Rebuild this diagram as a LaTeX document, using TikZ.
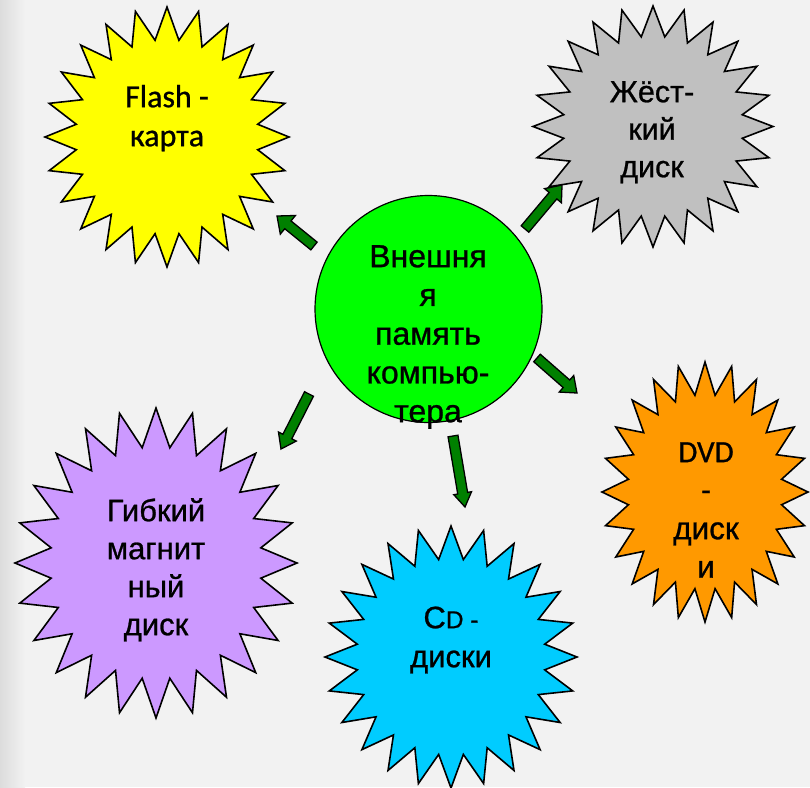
\documentclass[tikz,border=0pt]{standalone}
\usepackage{fontspec}
\setmainfont{Liberation Sans}[FakeBold=0.8]
\newfontfamily\calib{Carlito}[FakeBold=0.8]
\usetikzlibrary{calc}
\definecolor{bgc}{HTML}{F2F2F2}
\definecolor{bgdark}{HTML}{DCDCDC}
\definecolor{cyel}{HTML}{FFFF00}
\definecolor{cgray}{HTML}{C0C0C0}
\definecolor{cgreen}{HTML}{00FF00}
\definecolor{corange}{HTML}{FF9900}
\definecolor{ccyan}{HTML}{00CCFF}
\definecolor{cpurple}{HTML}{CC99FF}
\definecolor{carrow}{HTML}{008000}
\tikzset{
  starst/.style={draw=black, line width=1.6pt, line join=miter},
  arrowst/.style={draw=black, fill=carrow, line width=1.3pt, line join=miter},
  txt/.style={align=center, inner sep=0pt, anchor=north, text=black},
}
% star burst: cx cy rx ry colour
\newcommand{\starburst}[5]{%
  \filldraw[starst, fill=#5] plot[variable=\t, samples at={0,7.5,...,352.5}]
    ({#1+#3*(1-0.25*mod(round(\t/7.5),2))*sin(\t)},
     {#2-#4*(1-0.25*mod(round(\t/7.5),2))*cos(\t)}) -- cycle;}
% block arrow: tail, tip, head half width
\newcommand{\blockarr}[3]{%
  \coordinate (bah) at ($(#2)!14pt!(#1)$);
  \filldraw[arrowst] ($(#1)!5pt!-90:(#2)$) -- ($(bah)!5pt!90:(#1)$)
    -- ($(bah)!#3!90:(#1)$) -- (#2) -- ($(bah)!#3!-90:(#1)$)
    -- ($(bah)!5pt!-90:(#1)$) -- ($(#1)!5pt!90:(#2)$) -- cycle;}
\begin{document}
\begin{tikzpicture}[x=1pt,y=-1pt]
\useasboundingbox (0,0) rectangle (810,787);
\fill[bgc] (0,0) rectangle (810,787);
\shade[left color=bgdark, right color=bgc] (0,0) rectangle (25,787);

% stars
\starburst{167}{137}{122}{130}{cyel}
\starburst{653}{126.5}{120}{120.5}{cgray}
\starburst{705}{492}{103}{130}{corange}
\starburst{451}{657}{126}{131}{ccyan}
\starburst{156}{563}{141}{155}{cpurple}

% centre
\node[circle, draw=black, line width=1.2pt, fill=cgreen, minimum size=227pt, inner sep=0pt] (centre) at (428.5,309) {};

% arrows
\coordinate (t1) at (314,246); \coordinate (h1) at (277,216);
\coordinate (t2) at (525,229); \coordinate (h2) at (562,185);
\coordinate (t3) at (537,358); \coordinate (h3) at (577,393);
\coordinate (t4) at (453,436); \coordinate (h4) at (465,507);
\coordinate (t5) at (309,394); \coordinate (h5) at (281,449);
\blockarr{t1}{h1}{12pt}
\blockarr{t2}{h2}{11pt}
\blockarr{t3}{h3}{11pt}
\blockarr{t4}{h4}{9pt}
\blockarr{t5}{h5}{10pt}

% texts
\node[txt, font=\calib\fontsize{32}{39}\selectfont] (flash) at (167,81)
  {\rule{0pt}{26pt}Flash -\\карта};
\node[txt, font=\fontsize{30.5}{37.5}\selectfont] (hdd) at (652,76)
  {\rule{0pt}{26pt}Жёст-\\кий\\диск};
\node[txt, font=\fontsize{32}{38.75}\selectfont] (ext) at (428,241)
  {\rule{0pt}{26pt}Внешня\\я\\память\\компью-\\тера};
\node[txt, font=\fontsize{31.5}{38.5}\selectfont] (dvd) at (706,436)
  {\rule{0pt}{26pt}{\calib\fontsize{31}{38.5}\selectfont DVD}\\{\calib\fontsize{31}{38.5}\selectfont -}\\диск\\и};
\node[txt, font=\fontsize{31}{39}\selectfont] (cd) at (451,602)
  {\rule{0pt}{26pt}C{\fontsize{24.5}{39}\selectfont D -}\\диски};
\node[txt, font=\fontsize{31}{38}\selectfont] (fdd) at (156,495)
  {\rule{0pt}{26pt}Гибкий\\магнит\\ный\\диск};
\end{tikzpicture}
\end{document}
